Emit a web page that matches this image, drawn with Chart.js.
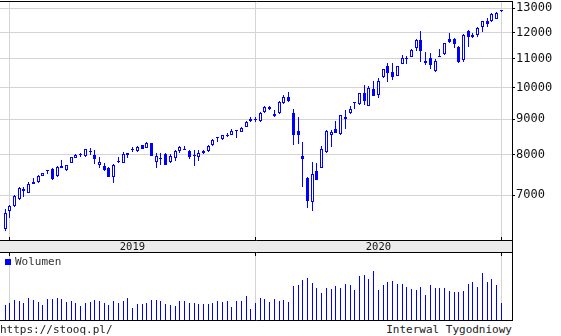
<!DOCTYPE html>
<html>
<head>
<meta charset="utf-8">
<script src="https://cdn.jsdelivr.net/npm/chart.js@4.4.1/dist/chart.umd.min.js"></script>
<style>
body { margin: 0; background: #fff; width: 561px; height: 336px; overflow: hidden; position: relative;
       font-family: "DejaVu Sans Mono", monospace; color: #222; }
canvas { position: absolute; left: 0; }
#main { top: 0; }
#vol { top: 253px; }
.txt { position: absolute; font-size: 11px; line-height: 12px; white-space: pre; }
.sq { position: absolute; left: 5px; top: 259px; width: 6px; height: 6px; background: #0000ff; }
</style>
</head>
<body>
<canvas id="main" width="561" height="253"></canvas>
<canvas id="vol" width="561" height="68"></canvas>
<div class="sq"></div>
<div class="txt" style="left:15px; top:256px; color:#333">Wolumen</div>
<div class="txt" style="left:0; top:324px">https://stooq.pl/</div>
<div class="txt" style="right:49px; top:324px">Interwal Tygodniowy</div>
<script>
// weekly candles, late Dec 2018 .. end of 2020
const opens = [
  6250, 6645, 6750, 6900, 7100, 7055, 7260, 7315, 7455, 7590,
  7625, 7455, 7700, 7605, 7790, 7915, 7985, 7965, 8085, 7995,
  7725, 7705, 7650, 7425, 7800, 7790, 8000, 8125, 8100, 8260,
  8170, 8310, 7815, 7880, 8020, 7815, 7905, 8105, 8125, 8100,
  7985, 7950, 8040, 8100, 8260, 8445, 8420, 8550, 8550, 8655,
  8635, 8780, 8945, 8975, 8945, 9220, 9360, 9095, 9180, 9485,
  9675, 9180, 8655, 7975, 7410, 6830, 7590, 7650, 8080, 8540,
  8705, 8560, 9075, 9180, 9485, 9455, 9805, 9410, 9950, 9750,
  10340, 10735, 10535, 10385, 10810, 10975, 11075, 11410, 11705, 10915,
  11015, 10560, 11100, 11175, 11730, 11730, 11425, 10950, 12060, 11830,
  11900, 12205, 12465, 12475, 12545, 12925
];
const highs = [
  6675, 6780, 7000, 7180, 7180, 7315, 7400, 7480, 7540, 7595,
  7650, 7705, 7860, 7740, 7950, 8010, 8055, 8160, 8190, 8125,
  7930, 7790, 7690, 7760, 7940, 8080, 8040, 8215, 8235, 8265,
  8345, 8315, 8040, 8055, 8040, 8020, 8125, 8245, 8245, 8125,
  8125, 8125, 8125, 8260, 8420, 8495, 8550, 8605, 8705, 8685,
  8780, 8935, 9075, 9075, 9230, 9410, 9405, 9280, 9560, 9750,
  9840, 9310, 9075, 8335, 7440, 7810, 7775, 8245, 8685, 8685,
  8955, 9135, 9280, 9405, 9525, 9825, 10070, 10045, 10225, 10305,
  10640, 10835, 10855, 10745, 11135, 11100, 11350, 11740, 12060, 11260,
  11220, 10975, 11350, 11600, 11965, 11770, 11475, 11925, 12100, 11965,
  12230, 12475, 12575, 12785, 12830, 12940
];
const lows = [
  6210, 6480, 6735, 6885, 6960, 7040, 7255, 7290, 7450, 7505,
  7355, 7440, 7645, 7590, 7790, 7905, 7950, 7950, 7985, 7760,
  7650, 7590, 7435, 7290, 7790, 7790, 7905, 8080, 8080, 8140,
  8170, 7970, 7665, 7730, 7735, 7775, 7845, 8040, 8120, 7895,
  7715, 7845, 8020, 8080, 8245, 8355, 8400, 8475, 8530, 8450,
  8615, 8760, 8925, 8925, 8925, 9200, 9280, 9075, 9155, 9465,
  9530, 8260, 8290, 7195, 6700, 6645, 7355, 7645, 8055, 8215,
  8595, 8540, 8705, 9155, 9310, 9435, 9425, 9405, 9725, 9665,
  10315, 10190, 10250, 10375, 10805, 10795, 11070, 11295, 10870, 10770,
  10630, 10535, 11045, 11135, 11575, 11385, 10835, 10870, 11445, 11770,
  11810, 12030, 12230, 12435, 12535, 12840
];
const closes = [
  6590, 6750, 6975, 7155, 7150, 7260, 7315, 7465, 7520, 7575,
  7390, 7675, 7650, 7725, 7930, 7990, 8010, 8145, 8100, 7895,
  7810, 7605, 7440, 7730, 7810, 8020, 8035, 8150, 8215, 8145,
  8325, 7975, 7965, 7905, 7740, 7965, 8105, 8200, 8150, 7930,
  7965, 8055, 8105, 8245, 8400, 8475, 8530, 8515, 8655, 8680,
  8750, 8915, 9015, 9005, 9180, 9380, 9300, 9155, 9530, 9695,
  9550, 8540, 8540, 7880, 6870, 7505, 7360, 8145, 8655, 8615,
  8600, 9115, 9000, 9320, 9520, 9805, 9570, 9970, 9730, 10205,
  10620, 10500, 10340, 10735, 11015, 11015, 11320, 11705, 11295, 10835,
  10770, 10915, 11050, 11575, 11635, 11540, 10890, 11900, 11830, 11900,
  12190, 12465, 12330, 12755, 12810, 12870
];
const volumes = [
  150, 173, 197, 190, 173, 220, 197, 183, 150, 207,
  207, 220, 213, 183, 190, 173, 137, 173, 183, 197,
  190, 173, 150, 190, 173, 190, 220, 120, 160, 160,
  173, 197, 203, 190, 160, 150, 137, 190, 190, 173,
  173, 160, 160, 160, 173, 190, 183, 190, 127, 190,
  190, 240, 113, 173, 220, 207, 183, 207, 190, 200,
  183, 340, 350, 400, 417, 373, 317, 273, 317, 307,
  340, 317, 360, 350, 300, 440, 450, 410, 490, 300,
  350, 377, 390, 360, 360, 330, 310, 300, 330, 250,
  350, 317, 317, 317, 290, 280, 280, 290, 360, 380,
  330, 470, 380, 410, 350, 170
];
const priceTicks = [7000, 8000, 9000, 10000, 11000, 12000, 13000];
const years = ['2019', '2020'];
const yearStarts = [0.9, 53.0, 105.0]; // week index where each year begins

const blue = '#0000ff';
const gridGray = '#d4d4d4';
const mono = 'DejaVu Sans Mono';
Chart.defaults.font.family = mono;
Chart.defaults.color = '#111';

const xMin = -1.06, xMax = 107.26;
const weeks = closes.map((c, i) => i);
const bodyData = weeks.map(i => ({ x: i, y: [opens[i], closes[i]] }));
const wickData = weeks.map(i => ({ x: i, y: [lows[i], highs[i]] }));
const bodyFill = weeks.map(i => closes[i] >= opens[i] ? '#ffffff' : blue);
const volData = weeks.map(i => ({ x: i, y: volumes[i] }));

// tick list for the year band: boundaries (grid only) and mid points (labels)
const bandTicks = [];
const bandText = [];
yearStarts.forEach((v, i) => {
  bandTicks.push(v); bandText.push('');
  if (i < years.length) {
    bandTicks.push((v + yearStarts[i + 1]) / 2); bandText.push(years[i]);
  }
});

// put bars on whole pixels so they stay crisp like the original
const snap = {
  id: 'snap',
  beforeDatasetsDraw(chart) {
    chart.data.datasets.forEach((ds, d) => {
      chart.getDatasetMeta(d).data.forEach(el => {
        el.x = el.width % 2 === 1 ? Math.floor(el.x) + 0.5 : Math.round(el.x);
        el.y = Math.round(el.y);
        el.base = Math.round(el.base);
        if (el.y === el.base) el.y = el.base - 1;
      });
    });
  }
};

function line(ctx, x1, y1, x2, y2) {
  ctx.moveTo(x1, y1); ctx.lineTo(x2, y2);
}

const mainFrame = {
  id: 'mainFrame',
  afterDraw(chart) {
    const { ctx, chartArea: a, scales } = chart;
    const r = a.right + 0.5;
    ctx.save();
    ctx.strokeStyle = '#000';
    ctx.lineWidth = 1;
    ctx.beginPath();
    line(ctx, 0, a.top - 0.5, r, a.top - 0.5);
    line(ctx, r, a.top - 1, r, chart.height);
    line(ctx, 0, a.bottom + 0.5, r, a.bottom + 0.5);
    line(ctx, 0, chart.height - 0.5, r, chart.height - 0.5);
    yearStarts.forEach(v => {
      const x = Math.floor(scales.x.getPixelForValue(v)) + 0.5;
      line(ctx, x, a.bottom - 3, x, a.bottom);
    });
    ctx.stroke();
    ctx.restore();
  }
};

const volFrame = {
  id: 'volFrame',
  afterDraw(chart) {
    const { ctx, chartArea: a, scales } = chart;
    const r = a.right + 0.5;
    ctx.save();
    ctx.strokeStyle = '#000';
    ctx.lineWidth = 1;
    ctx.beginPath();
    line(ctx, r, 0, r, a.bottom + 1);
    line(ctx, 0, a.bottom + 0.5, r, a.bottom + 0.5);
    yearStarts.forEach(v => {
      const x = Math.floor(scales.x.getPixelForValue(v)) + 0.5;
      line(ctx, x, 0, x, 3);
    });
    ctx.stroke();
    ctx.restore();
  }
};

new Chart(document.getElementById('main'), {
  type: 'bar',
  data: {
    datasets: [
      { data: bodyData, backgroundColor: bodyFill, borderColor: blue, borderWidth: 1,
        borderSkipped: false, barThickness: 3, inflateAmount: 0, grouped: false, order: 0 },
      { data: wickData, backgroundColor: blue, borderWidth: 0,
        barThickness: 1, inflateAmount: 0, grouped: false, order: 1 }
    ]
  },
  options: {
    responsive: false,
    animation: false,
    events: [],
    layout: { padding: { top: 2, left: 0, right: 0, bottom: 0 } },
    plugins: { legend: { display: false }, tooltip: { enabled: false } },
    scales: {
      x: {
        type: 'linear', min: xMin, max: xMax, bounds: 'data', offset: false,
        backgroundColor: '#ebebeb',
        grid: { offset: false, drawTicks: false,
                color: c => bandText[c.index] === '' ? gridGray : 'rgba(0,0,0,0)' },
        border: { display: false },
        afterBuildTicks: s => { s.ticks = bandTicks.map(v => ({ value: v })); },
        afterFit: s => { s.height = 13; s.paddingLeft = 0; s.paddingRight = 0; },
        ticks: { autoSkip: false, maxRotation: 0, padding: 1, font: { size: 10.5 },
                 callback: (v, i) => bandText[i] }
      },
      y: {
        type: 'logarithmic', position: 'right', min: 6030, max: 13274, bounds: 'data',
        grid: { color: gridGray, tickLength: 3, tickColor: '#000' },
        border: { display: false },
        afterBuildTicks: s => { s.ticks = priceTicks.map(v => ({ value: v })); },
        afterFit: s => { s.width = 49; s.paddingTop = 0; s.paddingBottom = 0; },
        ticks: { autoSkip: false, padding: 1, font: { size: 12 }, callback: v => String(v) }
      }
    }
  },
  plugins: [snap, mainFrame]
});

new Chart(document.getElementById('vol'), {
  type: 'bar',
  data: {
    datasets: [{ data: volData, backgroundColor: blue, barThickness: 1, inflateAmount: 0, grouped: false }]
  },
  options: {
    responsive: false,
    animation: false,
    events: [],
    layout: { padding: { top: 0, left: 0, right: 49, bottom: 1 } },
    plugins: { legend: { display: false }, tooltip: { enabled: false } },
    scales: {
      x: {
        type: 'linear', min: xMin, max: xMax, bounds: 'data', offset: false,
        grid: { offset: false, drawTicks: false, color: gridGray },
        border: { display: false },
        ticks: { display: false },
        afterBuildTicks: s => { s.ticks = yearStarts.map(v => ({ value: v })); },
        afterFit: s => { s.height = 0; }
      },
      y: { display: false, min: 0, max: 670 }
    }
  },
  plugins: [snap, volFrame]
});
</script>
</body>
</html>
